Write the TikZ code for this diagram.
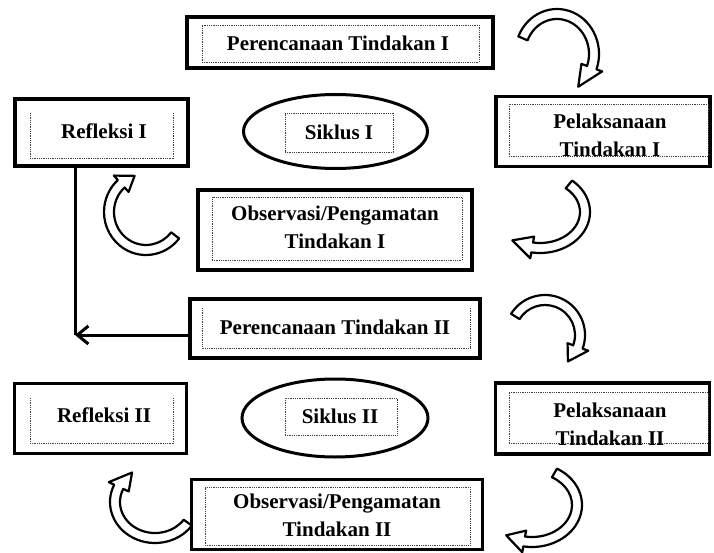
\documentclass[tikz,border=0pt]{standalone}
\usepackage{fontspec}
\setmainfont{Liberation Serif}
\usetikzlibrary{shapes.geometric,arrows.meta}
\newcommand{\barc}[7]{%
  \draw[barrow,shift={(#1,#2)}]
   (xyz polar cs:angle=#5,x radius=#3+5,y radius=#4+5)
   arc[start angle=#5,end angle=#6,x radius=#3+5,y radius=#4+5]
   -- (xyz polar cs:angle=#6,x radius=#3+11,y radius=#4+11)
   -- (xyz polar cs:angle=#7,x radius=#3,y radius=#4)
   -- (xyz polar cs:angle=#6,x radius=#3-11,y radius=#4-11)
   -- (xyz polar cs:angle=#6,x radius=#3-5,y radius=#4-5)
   arc[start angle=#6,end angle=#5,x radius=#3-5,y radius=#4-5]
   -- cycle;}
\tikzset{
  frame/.style={draw, line width=3.8pt, rectangle, inner sep=0pt},
  oval/.style={draw, line width=3pt, ellipse, inner sep=0pt},
  dotbox/.style={draw=black!75, line width=0.8pt, dash pattern=on 0.9pt off 0.9pt, inner sep=0pt, rectangle},
  dotline/.style={draw=black!75, line width=0.8pt, dash pattern=on 0.9pt off 0.9pt},
  lbl/.style={font=\bfseries\fontsize{21}{28}\selectfont, align=center, inner sep=0pt, text=black},
  barrow/.style={draw, line width=2.2pt, fill=white, line join=round},
  conn/.style={line width=3pt}
}
\begin{document}
\begin{tikzpicture}[x=1pt,y=-1pt]
\useasboundingbox (0,0) rectangle (714,553);
\fill[white] (0,0) rectangle (714,553);

% ---- Cycle I ----
\node[frame, minimum width=306pt, minimum height=51pt] (pt1) at (340,42.5) {};
\node[dotbox, minimum width=277pt, minimum height=37pt] (pt1d) at (340.5,43.5) {};
\node[lbl] (pt1t) at (338,43) {Perencanaan Tindakan I};

\node[frame, minimum width=173pt, minimum height=67pt] (rf1) at (101.5,132.5) {};
\draw[dotline] (30,113) -- (30,158) -- (173,158) -- (173,113);
\node[lbl] (rf1t) at (104,131) {Refleksi I};

\node[oval, minimum width=184pt, minimum height=74pt] (sk1) at (335.5,131.5) {};
\node[dotbox, minimum width=108pt, minimum height=39pt] (sk1d) at (339,132.5) {};
\node[lbl] (sk1t) at (339,132) {Siklus I};

\node[frame, minimum width=214pt, minimum height=70pt] (pl1) at (603,131.5) {};
\node[dotbox, minimum width=199pt, minimum height=52pt] (pl1d) at (608.5,130) {};
\node[lbl] (pl1t) at (610,135) {Pelaksanaan\\Tindakan I};

\node[frame, minimum width=274pt, minimum height=80pt] (ob1) at (335,230) {};
\node[dotbox, minimum width=250pt, minimum height=63pt] (ob1d) at (337,228.5) {};
\node[lbl] (ob1t) at (335,227.5) {Observasi/Pengamatan\\Tindakan I};

% ---- link ----
\node[frame, minimum width=290pt, minimum height=59pt] (pt2) at (335,328.5) {};
\draw[dotline] (202,308) -- (202,348) -- (470,348) -- (470,308);
\node[lbl] (pt2t) at (335,327) {Perencanaan Tindakan II};

\coordinate (c1) at (75,335);
\draw[conn] (rf1.south -| c1) -- (c1);
\draw[conn, -{Straight Barb[length=11pt,width=18pt,line width=3pt]}] (pt2.west |- c1) -- (c1);

% ---- Cycle II ----
\node[frame, minimum width=172pt, minimum height=70pt] (rf2) at (100.5,418.5) {};
\draw[dotline] (30,398) -- (30,443) -- (173,443) -- (173,398);
\node[lbl] (rf2t) at (104,415) {Refleksi II};

\node[oval, minimum width=186pt, minimum height=78pt] (sk2) at (335,418) {};
\node[dotbox, minimum width=112pt, minimum height=37pt] (sk2d) at (341,416.5) {};
\node[lbl] (sk2t) at (340,416) {Siklus II};

\node[frame, minimum width=214pt, minimum height=71pt] (pl2) at (602.5,418.5) {};
\node[dotbox, minimum width=199pt, minimum height=51pt] (pl2d) at (608.5,417.5) {};
\node[lbl] (pl2t) at (610,424) {Pelaksanaan\\Tindakan II};

\node[frame, minimum width=291pt, minimum height=70pt] (ob2) at (337,514.5) {};
\node[dotbox, minimum width=265pt, minimum height=58pt] (ob2d) at (337.5,516) {};
\node[lbl] (ob2t) at (337,515.5) {Observasi/Pengamatan\\Tindakan II};

% ---- curved block arrows ----
\barc{557}{54}{37}{40}{203}{380}{415}
\barc{146}{212}{37}{38}{38}{228}{252}
\barc{540}{212}{45}{36}{-50}{100}{128}
\barc{545}{335}{35}{35}{212}{380}{409}
\barc{155}{502}{40}{36}{35}{205}{235}
\barc{532}{505}{45}{37}{-60}{100}{125}
\end{tikzpicture}
\end{document}
